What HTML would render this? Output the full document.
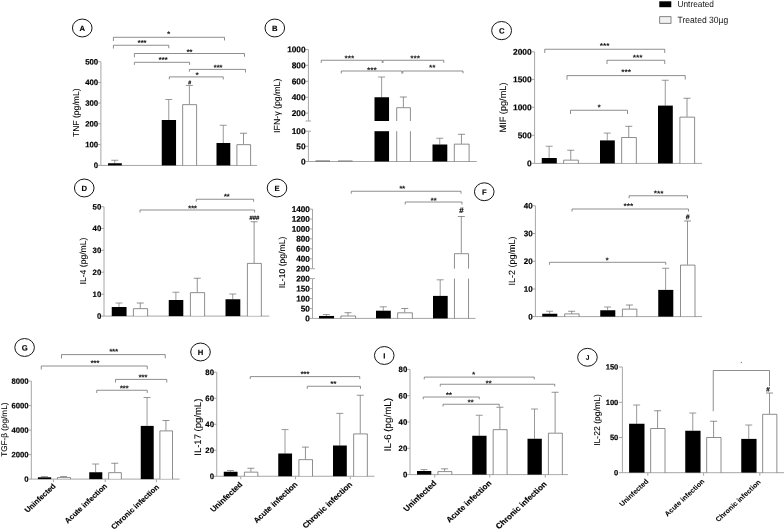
<!DOCTYPE html>
<html lang="en">
<head>
<meta charset="utf-8">
<title>Figure</title>
<style>
html,body{margin:0;padding:0;background:#fff;}
body{width:784px;height:531px;overflow:hidden;}
svg{display:block;font-family:"Liberation Sans",sans-serif;text-rendering:geometricPrecision;}
</style>
</head>
<body>
<svg width="784" height="531" viewBox="0 0 784 531">
<rect x="0" y="0" width="784" height="531" fill="#fff"/>
<rect x="659.3" y="1.3" width="12" height="5.9" fill="#000"/>
<text transform="translate(677.5 7.2) scale(1 1.07)" font-size="8.3" fill="#151515">Untreated</text>
<rect x="659.7" y="16.7" width="11.3" height="6.6" fill="#f2f2f2" stroke="#666" stroke-width="0.8"/>
<text transform="translate(677.5 22.9) scale(1 1.07)" font-size="8.55" fill="#151515">Treated 30µg</text>
<ellipse cx="82.25" cy="28" rx="9.8" ry="8.95" fill="#fff" stroke="#0a0a0a" stroke-width="0.95"/>
<text x="82.35" y="31" font-size="7.7" text-anchor="middle" font-weight="bold" transform="rotate(0.2 82.35 31)" fill="#000" stroke="#000" stroke-width="0.12">A</text>
<line x1="100.9" y1="61.75" x2="100.9" y2="165.4" stroke="#a6a6a6" stroke-width="1"/>
<line x1="98.1" y1="165.4" x2="100.9" y2="165.4" stroke="#a6a6a6" stroke-width="1"/>
<text x="98.2" y="168.13" font-size="7.8" text-anchor="end" font-weight="bold" transform="rotate(0.2 98.2 168.13)" fill="#000" stroke="#000" stroke-width="0.18">0</text>
<line x1="98.1" y1="144.6" x2="100.9" y2="144.6" stroke="#a6a6a6" stroke-width="1"/>
<text x="98.2" y="147.33" font-size="7.8" text-anchor="end" font-weight="bold" transform="rotate(0.2 98.2 147.33)" fill="#000" stroke="#000" stroke-width="0.18">100</text>
<line x1="98.1" y1="123.75" x2="100.9" y2="123.75" stroke="#a6a6a6" stroke-width="1"/>
<text x="98.2" y="126.48" font-size="7.8" text-anchor="end" font-weight="bold" transform="rotate(0.2 98.2 126.48)" fill="#000" stroke="#000" stroke-width="0.18">200</text>
<line x1="98.1" y1="103.1" x2="100.9" y2="103.1" stroke="#a6a6a6" stroke-width="1"/>
<text x="98.2" y="105.83" font-size="7.8" text-anchor="end" font-weight="bold" transform="rotate(0.2 98.2 105.83)" fill="#000" stroke="#000" stroke-width="0.18">300</text>
<line x1="98.1" y1="82.4" x2="100.9" y2="82.4" stroke="#a6a6a6" stroke-width="1"/>
<text x="98.2" y="85.13" font-size="7.8" text-anchor="end" font-weight="bold" transform="rotate(0.2 98.2 85.13)" fill="#000" stroke="#000" stroke-width="0.18">400</text>
<line x1="98.1" y1="61.75" x2="100.9" y2="61.75" stroke="#a6a6a6" stroke-width="1"/>
<text x="98.2" y="64.48" font-size="7.8" text-anchor="end" font-weight="bold" transform="rotate(0.2 98.2 64.48)" fill="#000" stroke="#000" stroke-width="0.18">500</text>
<line x1="100.5" y1="165.45" x2="257" y2="165.45" stroke="#a6a6a6" stroke-width="1"/>
<text x="79" y="112.75" font-size="8.6" text-anchor="middle" transform="rotate(-90 79 112.75)" fill="#000" stroke="#000" stroke-width="0.08">TNF (pg/mL)</text>
<line x1="114.75" y1="160.25" x2="114.75" y2="163.25" stroke="#727272" stroke-width="0.72"/>
<line x1="111.25" y1="160.25" x2="118.25" y2="160.25" stroke="#727272" stroke-width="0.72"/>
<rect x="108" y="163.25" width="13.8" height="2.15" fill="#000"/>
<line x1="168.75" y1="99.5" x2="168.75" y2="120" stroke="#727272" stroke-width="0.72"/>
<line x1="165.25" y1="99.5" x2="172.25" y2="99.5" stroke="#727272" stroke-width="0.72"/>
<rect x="161.75" y="120" width="14.3" height="45.4" fill="#000"/>
<line x1="189.38" y1="85.4" x2="189.38" y2="104.25" stroke="#686868" stroke-width="0.72"/>
<line x1="185.88" y1="85.4" x2="192.88" y2="85.4" stroke="#686868" stroke-width="0.72"/>
<rect x="182.65" y="104.65" width="13.95" height="60.25" fill="#fff"/>
<polyline points="182.65,165.4 182.65,104.65 196.6,104.65 196.6,165.4" fill="none" stroke="#585858" stroke-width="0.68"/>
<line x1="223.25" y1="125.25" x2="223.25" y2="143" stroke="#727272" stroke-width="0.72"/>
<line x1="219.75" y1="125.25" x2="226.75" y2="125.25" stroke="#727272" stroke-width="0.72"/>
<rect x="216.5" y="143" width="13.8" height="22.4" fill="#000"/>
<line x1="243.5" y1="133.25" x2="243.5" y2="144.25" stroke="#686868" stroke-width="0.72"/>
<line x1="240" y1="133.25" x2="247" y2="133.25" stroke="#686868" stroke-width="0.72"/>
<rect x="236.9" y="144.65" width="13.7" height="20.25" fill="#fff"/>
<polyline points="236.9,165.4 236.9,144.65 250.6,144.65 250.6,165.4" fill="none" stroke="#585858" stroke-width="0.68"/>
<polyline points="113.4,41.1 113.4,37.3 224.5,37.3 224.5,40.5" fill="none" stroke="#686868" stroke-width="0.75"/>
<text x="168.47" y="36.95" font-size="8.4" text-anchor="middle" font-weight="bold" transform="rotate(0.2 168.47 36.95)" fill="#1a1a1a" letter-spacing="-0.35">*</text>
<polyline points="113.4,48.6 113.4,45.25 168.75,45.25 168.75,48.2" fill="none" stroke="#686868" stroke-width="0.75"/>
<text x="141.88" y="45.7" font-size="8.4" text-anchor="middle" font-weight="bold" transform="rotate(0.2 141.88 45.7)" fill="#1a1a1a" letter-spacing="-0.35">***</text>
<polyline points="134.4,57.4 134.4,53.5 244.5,53.5 244.5,56.75" fill="none" stroke="#686868" stroke-width="0.75"/>
<text x="189.38" y="54.9" font-size="8.4" text-anchor="middle" font-weight="bold" transform="rotate(0.2 189.38 54.9)" fill="#1a1a1a" letter-spacing="-0.35">**</text>
<polyline points="134.4,64.9 134.4,62.3 189.6,62.3 189.6,64.9" fill="none" stroke="#686868" stroke-width="0.75"/>
<text x="162.97" y="62.8" font-size="8.4" text-anchor="middle" font-weight="bold" transform="rotate(0.2 162.97 62.8)" fill="#1a1a1a" letter-spacing="-0.35">***</text>
<polyline points="189.4,71.75 189.4,69.4 245.5,69.4 245.5,72.5" fill="none" stroke="#686868" stroke-width="0.75"/>
<text x="217.88" y="70.45" font-size="8.4" text-anchor="middle" font-weight="bold" transform="rotate(0.2 217.88 70.45)" fill="#1a1a1a" letter-spacing="-0.35">***</text>
<polyline points="169.3,79.25 169.3,76.9 223.25,76.9 223.25,79.5" fill="none" stroke="#686868" stroke-width="0.75"/>
<text x="197.07" y="77.9" font-size="8.4" text-anchor="middle" font-weight="bold" transform="rotate(0.2 197.07 77.9)" fill="#1a1a1a" letter-spacing="-0.35">*</text>
<text x="189.6" y="84.24" font-size="5.2" text-anchor="middle" font-weight="bold" transform="rotate(0.2 189.6 84.24)" fill="#000" stroke="#000" stroke-width="0.2">#</text>
<ellipse cx="274.8" cy="28" rx="9.8" ry="8.95" fill="#fff" stroke="#0a0a0a" stroke-width="0.95"/>
<text x="274.9" y="31" font-size="7.7" text-anchor="middle" font-weight="bold" transform="rotate(0.2 274.9 31)" fill="#000" stroke="#000" stroke-width="0.12">B</text>
<line x1="308.4" y1="131.2" x2="308.4" y2="161.5" stroke="#a6a6a6" stroke-width="1"/>
<line x1="308.4" y1="49.5" x2="308.4" y2="121" stroke="#a6a6a6" stroke-width="1"/>
<line x1="305.6" y1="161.5" x2="308.4" y2="161.5" stroke="#a6a6a6" stroke-width="1"/>
<text x="305.6" y="164.41" font-size="8.3" text-anchor="end" font-weight="bold" transform="rotate(0.2 305.6 164.41)" fill="#000" stroke="#000" stroke-width="0.18">0</text>
<line x1="305.6" y1="146.35" x2="308.4" y2="146.35" stroke="#a6a6a6" stroke-width="1"/>
<text x="305.6" y="149.25" font-size="8.3" text-anchor="end" font-weight="bold" transform="rotate(0.2 305.6 149.25)" fill="#000" stroke="#000" stroke-width="0.18">50</text>
<line x1="305.6" y1="131.2" x2="308.4" y2="131.2" stroke="#a6a6a6" stroke-width="1"/>
<text x="305.6" y="134.1" font-size="8.3" text-anchor="end" font-weight="bold" transform="rotate(0.2 305.6 134.1)" fill="#000" stroke="#000" stroke-width="0.18">100</text>
<line x1="305.6" y1="121" x2="308.4" y2="121" stroke="#a6a6a6" stroke-width="1"/>
<line x1="305.6" y1="113.1" x2="308.4" y2="113.1" stroke="#a6a6a6" stroke-width="1"/>
<text x="305.6" y="116" font-size="8.3" text-anchor="end" font-weight="bold" transform="rotate(0.2 305.6 116)" fill="#000" stroke="#000" stroke-width="0.18">200</text>
<line x1="305.6" y1="97.25" x2="308.4" y2="97.25" stroke="#a6a6a6" stroke-width="1"/>
<text x="305.6" y="100.16" font-size="8.3" text-anchor="end" font-weight="bold" transform="rotate(0.2 305.6 100.16)" fill="#000" stroke="#000" stroke-width="0.18">400</text>
<line x1="305.6" y1="81.3" x2="308.4" y2="81.3" stroke="#a6a6a6" stroke-width="1"/>
<text x="305.6" y="84.2" font-size="8.3" text-anchor="end" font-weight="bold" transform="rotate(0.2 305.6 84.2)" fill="#000" stroke="#000" stroke-width="0.18">600</text>
<line x1="305.6" y1="65.3" x2="308.4" y2="65.3" stroke="#a6a6a6" stroke-width="1"/>
<text x="305.6" y="68.2" font-size="8.3" text-anchor="end" font-weight="bold" transform="rotate(0.2 305.6 68.2)" fill="#000" stroke="#000" stroke-width="0.18">800</text>
<line x1="305.6" y1="49.5" x2="308.4" y2="49.5" stroke="#a6a6a6" stroke-width="1"/>
<text x="305.6" y="52.41" font-size="8.3" text-anchor="end" font-weight="bold" transform="rotate(0.2 305.6 52.41)" fill="#000" stroke="#000" stroke-width="0.18">1000</text>
<line x1="308.4" y1="121" x2="311" y2="121" stroke="#a6a6a6" stroke-width="1"/>
<line x1="308.4" y1="131.2" x2="311" y2="131.2" stroke="#a6a6a6" stroke-width="1"/>
<line x1="308" y1="161.5" x2="476.8" y2="161.5" stroke="#a6a6a6" stroke-width="1"/>
<text x="280" y="105.8" font-size="8.8" text-anchor="middle" transform="rotate(-90 280 105.8)" fill="#000" stroke="#000" stroke-width="0.08">IFN-γ (pg/mL)</text>
<rect x="315.5" y="160.6" width="14.5" height="0.7" fill="#333"/>
<rect x="338" y="160.6" width="14.5" height="0.7" fill="#555"/>
<line x1="381.62" y1="77" x2="381.62" y2="97.25" stroke="#727272" stroke-width="0.72"/>
<line x1="378.12" y1="77" x2="385.12" y2="77" stroke="#727272" stroke-width="0.72"/>
<rect x="374.5" y="97.25" width="14.55" height="23.75" fill="#000"/>
<rect x="374.5" y="131.2" width="14.55" height="30.3" fill="#000"/>
<line x1="403.38" y1="97" x2="403.38" y2="107.25" stroke="#686868" stroke-width="0.72"/>
<line x1="399.88" y1="97" x2="406.88" y2="97" stroke="#686868" stroke-width="0.72"/>
<polyline points="396.7,121 396.7,107.7 410.4,107.7 410.4,121" fill="none" stroke="#585858" stroke-width="0.68"/>
<polyline points="396.7,131.2 396.7,161.5" fill="none" stroke="#585858" stroke-width="0.68"/>
<polyline points="410.4,131.2 410.4,161.5" fill="none" stroke="#585858" stroke-width="0.68"/>
<line x1="439.75" y1="138.25" x2="439.75" y2="144.5" stroke="#727272" stroke-width="0.72"/>
<line x1="436.25" y1="138.25" x2="443.25" y2="138.25" stroke="#727272" stroke-width="0.72"/>
<rect x="432.5" y="144.5" width="14.8" height="17" fill="#000"/>
<line x1="461.45" y1="134.3" x2="461.45" y2="143.75" stroke="#686868" stroke-width="0.72"/>
<line x1="457.95" y1="134.3" x2="464.95" y2="134.3" stroke="#686868" stroke-width="0.72"/>
<rect x="454.3" y="144.15" width="14.8" height="16.85" fill="#fff"/>
<polyline points="454.3,161.5 454.3,144.15 469.1,144.15 469.1,161.5" fill="none" stroke="#585858" stroke-width="0.68"/>
<polyline points="321.25,62.9 321.25,60.25 382.2,60.25 382.2,62.9" fill="none" stroke="#686868" stroke-width="0.75"/>
<text x="349.45" y="61.2" font-size="8.4" text-anchor="middle" font-weight="bold" transform="rotate(0.2 349.45 61.2)" fill="#1a1a1a" letter-spacing="0">***</text>
<polyline points="383,62.9 383,60.25 443.75,60.25 443.75,62.9" fill="none" stroke="#686868" stroke-width="0.75"/>
<text x="415.2" y="61.2" font-size="8.4" text-anchor="middle" font-weight="bold" transform="rotate(0.2 415.2 61.2)" fill="#1a1a1a" letter-spacing="0">***</text>
<polyline points="341.25,73.5 341.25,71 401.9,71 401.9,73.5" fill="none" stroke="#686868" stroke-width="0.75"/>
<text x="371.95" y="73" font-size="8.4" text-anchor="middle" font-weight="bold" transform="rotate(0.2 371.95 73)" fill="#1a1a1a" letter-spacing="0">***</text>
<polyline points="402.75,73.5 402.75,71 463,71 463,73.3" fill="none" stroke="#686868" stroke-width="0.75"/>
<text x="432.2" y="70.5" font-size="8.4" text-anchor="middle" font-weight="bold" transform="rotate(0.2 432.2 70.5)" fill="#1a1a1a" letter-spacing="0">**</text>
<ellipse cx="501.6" cy="30.6" rx="9.95" ry="9.1" fill="#fff" stroke="#0a0a0a" stroke-width="0.95"/>
<text x="501.7" y="33.6" font-size="7.7" text-anchor="middle" font-weight="bold" transform="rotate(0.2 501.7 33.6)" fill="#000" stroke="#000" stroke-width="0.12">C</text>
<line x1="534.6" y1="51.8" x2="534.6" y2="163.35" stroke="#a6a6a6" stroke-width="1"/>
<line x1="531.8" y1="163.35" x2="534.6" y2="163.35" stroke="#a6a6a6" stroke-width="1"/>
<text x="531.7" y="166.29" font-size="8.4" text-anchor="end" font-weight="bold" transform="rotate(0.2 531.7 166.29)" fill="#000" stroke="#000" stroke-width="0.18">0</text>
<line x1="531.8" y1="135.3" x2="534.6" y2="135.3" stroke="#a6a6a6" stroke-width="1"/>
<text x="531.7" y="138.24" font-size="8.4" text-anchor="end" font-weight="bold" transform="rotate(0.2 531.7 138.24)" fill="#000" stroke="#000" stroke-width="0.18">500</text>
<line x1="531.8" y1="107.3" x2="534.6" y2="107.3" stroke="#a6a6a6" stroke-width="1"/>
<text x="531.7" y="110.24" font-size="8.4" text-anchor="end" font-weight="bold" transform="rotate(0.2 531.7 110.24)" fill="#000" stroke="#000" stroke-width="0.18">1000</text>
<line x1="531.8" y1="79.4" x2="534.6" y2="79.4" stroke="#a6a6a6" stroke-width="1"/>
<text x="531.7" y="82.34" font-size="8.4" text-anchor="end" font-weight="bold" transform="rotate(0.2 531.7 82.34)" fill="#000" stroke="#000" stroke-width="0.18">1500</text>
<line x1="531.8" y1="51.8" x2="534.6" y2="51.8" stroke="#a6a6a6" stroke-width="1"/>
<text x="531.7" y="54.74" font-size="8.4" text-anchor="end" font-weight="bold" transform="rotate(0.2 531.7 54.74)" fill="#000" stroke="#000" stroke-width="0.18">2000</text>
<line x1="534.2" y1="163.4" x2="702" y2="163.4" stroke="#a6a6a6" stroke-width="1"/>
<text x="506.2" y="107.5" font-size="9.2" text-anchor="middle" transform="rotate(-90 506.2 107.5)" fill="#000" stroke="#000" stroke-width="0.08">MIF (pg/mL)</text>
<line x1="549.12" y1="146.25" x2="549.12" y2="158" stroke="#727272" stroke-width="0.72"/>
<line x1="545.62" y1="146.25" x2="552.62" y2="146.25" stroke="#727272" stroke-width="0.72"/>
<rect x="541.75" y="158" width="15.05" height="5.4" fill="#000"/>
<line x1="570.75" y1="150.25" x2="570.75" y2="159.75" stroke="#686868" stroke-width="0.72"/>
<line x1="567.25" y1="150.25" x2="574.25" y2="150.25" stroke="#686868" stroke-width="0.72"/>
<rect x="563.65" y="160.15" width="14.7" height="2.75" fill="#fff"/>
<polyline points="563.65,163.4 563.65,160.15 578.35,160.15 578.35,163.4" fill="none" stroke="#585858" stroke-width="0.68"/>
<line x1="607.25" y1="133.1" x2="607.25" y2="140.4" stroke="#727272" stroke-width="0.72"/>
<line x1="603.75" y1="133.1" x2="610.75" y2="133.1" stroke="#727272" stroke-width="0.72"/>
<rect x="600" y="140.4" width="14.8" height="23" fill="#000"/>
<line x1="628.75" y1="126.3" x2="628.75" y2="137.1" stroke="#686868" stroke-width="0.72"/>
<line x1="625.25" y1="126.3" x2="632.25" y2="126.3" stroke="#686868" stroke-width="0.72"/>
<rect x="621.65" y="137.5" width="14.7" height="25.4" fill="#fff"/>
<polyline points="621.65,163.4 621.65,137.5 636.35,137.5 636.35,163.4" fill="none" stroke="#585858" stroke-width="0.68"/>
<line x1="665.25" y1="80.25" x2="665.25" y2="105.6" stroke="#727272" stroke-width="0.72"/>
<line x1="661.75" y1="80.25" x2="668.75" y2="80.25" stroke="#727272" stroke-width="0.72"/>
<rect x="658" y="105.6" width="14.8" height="57.8" fill="#000"/>
<line x1="687" y1="98.25" x2="687" y2="116.75" stroke="#686868" stroke-width="0.72"/>
<line x1="683.5" y1="98.25" x2="690.5" y2="98.25" stroke="#686868" stroke-width="0.72"/>
<rect x="679.9" y="117.15" width="14.7" height="45.75" fill="#fff"/>
<polyline points="679.9,163.4 679.9,117.15 694.6,117.15 694.6,163.4" fill="none" stroke="#585858" stroke-width="0.68"/>
<polyline points="544.75,53 544.75,49.25 664.75,49.25 664.75,53" fill="none" stroke="#686868" stroke-width="0.75"/>
<text x="604.7" y="48.7" font-size="8.4" text-anchor="middle" font-weight="bold" transform="rotate(0.2 604.7 48.7)" fill="#1a1a1a" letter-spacing="0">***</text>
<polyline points="607,64 607,60.25 664.75,60.25 664.75,64" fill="none" stroke="#686868" stroke-width="0.75"/>
<text x="637.7" y="60.45" font-size="8.4" text-anchor="middle" font-weight="bold" transform="rotate(0.2 637.7 60.45)" fill="#1a1a1a" letter-spacing="0">***</text>
<polyline points="567,79.7 567,75.6 685.25,75.6 685.25,79.5" fill="none" stroke="#686868" stroke-width="0.75"/>
<text x="626.2" y="74.95" font-size="8.4" text-anchor="middle" font-weight="bold" transform="rotate(0.2 626.2 74.95)" fill="#1a1a1a" letter-spacing="0">***</text>
<polyline points="570.5,114 570.5,110.25 627.5,110.25 627.5,114" fill="none" stroke="#686868" stroke-width="0.75"/>
<text x="599.2" y="110.2" font-size="8.4" text-anchor="middle" font-weight="bold" transform="rotate(0.2 599.2 110.2)" fill="#1a1a1a" letter-spacing="0">*</text>
<ellipse cx="84.25" cy="188" rx="9.8" ry="8.95" fill="#fff" stroke="#0a0a0a" stroke-width="0.95"/>
<text x="84.35" y="191" font-size="7.7" text-anchor="middle" font-weight="bold" transform="rotate(0.2 84.35 191)" fill="#000" stroke="#000" stroke-width="0.12">D</text>
<line x1="104" y1="206.75" x2="104" y2="316.1" stroke="#a6a6a6" stroke-width="1"/>
<line x1="101.2" y1="316.1" x2="104" y2="316.1" stroke="#a6a6a6" stroke-width="1"/>
<text x="101.3" y="318.83" font-size="7.8" text-anchor="end" font-weight="bold" transform="rotate(0.2 101.3 318.83)" fill="#000" stroke="#000" stroke-width="0.18">0</text>
<line x1="101.2" y1="294.2" x2="104" y2="294.2" stroke="#a6a6a6" stroke-width="1"/>
<text x="101.3" y="296.93" font-size="7.8" text-anchor="end" font-weight="bold" transform="rotate(0.2 101.3 296.93)" fill="#000" stroke="#000" stroke-width="0.18">10</text>
<line x1="101.2" y1="272.2" x2="104" y2="272.2" stroke="#a6a6a6" stroke-width="1"/>
<text x="101.3" y="274.93" font-size="7.8" text-anchor="end" font-weight="bold" transform="rotate(0.2 101.3 274.93)" fill="#000" stroke="#000" stroke-width="0.18">20</text>
<line x1="101.2" y1="250.3" x2="104" y2="250.3" stroke="#a6a6a6" stroke-width="1"/>
<text x="101.3" y="253.03" font-size="7.8" text-anchor="end" font-weight="bold" transform="rotate(0.2 101.3 253.03)" fill="#000" stroke="#000" stroke-width="0.18">30</text>
<line x1="101.2" y1="228.4" x2="104" y2="228.4" stroke="#a6a6a6" stroke-width="1"/>
<text x="101.3" y="231.13" font-size="7.8" text-anchor="end" font-weight="bold" transform="rotate(0.2 101.3 231.13)" fill="#000" stroke="#000" stroke-width="0.18">40</text>
<line x1="101.2" y1="206.75" x2="104" y2="206.75" stroke="#a6a6a6" stroke-width="1"/>
<text x="101.3" y="209.48" font-size="7.8" text-anchor="end" font-weight="bold" transform="rotate(0.2 101.3 209.48)" fill="#000" stroke="#000" stroke-width="0.18">50</text>
<line x1="103.6" y1="316.1" x2="269.3" y2="316.1" stroke="#a6a6a6" stroke-width="1"/>
<text x="86.3" y="261" font-size="8.6" text-anchor="middle" transform="rotate(-90 86.3 261)" fill="#000" stroke="#000" stroke-width="0.08">IL-4 (pg/mL)</text>
<line x1="119" y1="303" x2="119" y2="307" stroke="#727272" stroke-width="0.72"/>
<line x1="115.5" y1="303" x2="122.5" y2="303" stroke="#727272" stroke-width="0.72"/>
<rect x="111.75" y="307" width="14.8" height="9.1" fill="#000"/>
<line x1="140.25" y1="303" x2="140.25" y2="308.25" stroke="#686868" stroke-width="0.72"/>
<line x1="136.75" y1="303" x2="143.75" y2="303" stroke="#686868" stroke-width="0.72"/>
<rect x="133.4" y="308.65" width="14.2" height="6.95" fill="#fff"/>
<polyline points="133.4,316.1 133.4,308.65 147.6,308.65 147.6,316.1" fill="none" stroke="#585858" stroke-width="0.68"/>
<line x1="175.88" y1="292.25" x2="175.88" y2="300" stroke="#727272" stroke-width="0.72"/>
<line x1="172.38" y1="292.25" x2="179.38" y2="292.25" stroke="#727272" stroke-width="0.72"/>
<rect x="168.75" y="300" width="14.55" height="16.1" fill="#000"/>
<line x1="197.25" y1="278.25" x2="197.25" y2="292.25" stroke="#686868" stroke-width="0.72"/>
<line x1="193.75" y1="278.25" x2="200.75" y2="278.25" stroke="#686868" stroke-width="0.72"/>
<rect x="190.4" y="292.65" width="14.2" height="22.95" fill="#fff"/>
<polyline points="190.4,316.1 190.4,292.65 204.6,292.65 204.6,316.1" fill="none" stroke="#585858" stroke-width="0.68"/>
<line x1="232.75" y1="294" x2="232.75" y2="299.25" stroke="#727272" stroke-width="0.72"/>
<line x1="229.25" y1="294" x2="236.25" y2="294" stroke="#727272" stroke-width="0.72"/>
<rect x="225.5" y="299.25" width="14.8" height="16.85" fill="#000"/>
<line x1="254.12" y1="221.75" x2="254.12" y2="263" stroke="#686868" stroke-width="0.72"/>
<line x1="250.62" y1="221.75" x2="257.62" y2="221.75" stroke="#686868" stroke-width="0.72"/>
<rect x="247.4" y="263.4" width="13.95" height="52.2" fill="#fff"/>
<polyline points="247.4,316.1 247.4,263.4 261.35,263.4 261.35,316.1" fill="none" stroke="#585858" stroke-width="0.68"/>
<polyline points="196.25,201.75 196.25,199.25 253.6,199.25 253.6,201.75" fill="none" stroke="#686868" stroke-width="0.75"/>
<text x="226.62" y="199.45" font-size="8.4" text-anchor="middle" font-weight="bold" transform="rotate(0.2 226.62 199.45)" fill="#1a1a1a" letter-spacing="-0.35">**</text>
<polyline points="140,212.5 140,210 254.6,210 254.6,212.5" fill="none" stroke="#686868" stroke-width="0.75"/>
<text x="192.38" y="211.2" font-size="8.4" text-anchor="middle" font-weight="bold" transform="rotate(0.2 192.38 211.2)" fill="#1a1a1a" letter-spacing="-0.35">***</text>
<text x="254.3" y="219.69" font-size="5.9" text-anchor="middle" font-weight="bold" transform="rotate(0.2 254.3 219.69)" fill="#000" stroke="#000" stroke-width="0.2">###</text>
<ellipse cx="277" cy="188" rx="9.8" ry="8.95" fill="#fff" stroke="#0a0a0a" stroke-width="0.95"/>
<text x="277.1" y="191" font-size="7.7" text-anchor="middle" font-weight="bold" transform="rotate(0.2 277.1 191)" fill="#000" stroke="#000" stroke-width="0.12">E</text>
<line x1="312.5" y1="278.6" x2="312.5" y2="318.4" stroke="#a6a6a6" stroke-width="1"/>
<line x1="312.5" y1="209.1" x2="312.5" y2="268.7" stroke="#a6a6a6" stroke-width="1"/>
<line x1="309.7" y1="318.4" x2="312.5" y2="318.4" stroke="#a6a6a6" stroke-width="1"/>
<text x="309.9" y="321.27" font-size="8.2" text-anchor="end" font-weight="bold" transform="rotate(0.2 309.9 321.27)" fill="#000" stroke="#000" stroke-width="0.18">0</text>
<line x1="309.7" y1="308.6" x2="312.5" y2="308.6" stroke="#a6a6a6" stroke-width="1"/>
<text x="309.9" y="311.47" font-size="8.2" text-anchor="end" font-weight="bold" transform="rotate(0.2 309.9 311.47)" fill="#000" stroke="#000" stroke-width="0.18">50</text>
<line x1="309.7" y1="298.6" x2="312.5" y2="298.6" stroke="#a6a6a6" stroke-width="1"/>
<text x="309.9" y="301.47" font-size="8.2" text-anchor="end" font-weight="bold" transform="rotate(0.2 309.9 301.47)" fill="#000" stroke="#000" stroke-width="0.18">100</text>
<line x1="309.7" y1="288.6" x2="312.5" y2="288.6" stroke="#a6a6a6" stroke-width="1"/>
<text x="309.9" y="291.47" font-size="8.2" text-anchor="end" font-weight="bold" transform="rotate(0.2 309.9 291.47)" fill="#000" stroke="#000" stroke-width="0.18">150</text>
<line x1="309.7" y1="278.6" x2="312.5" y2="278.6" stroke="#a6a6a6" stroke-width="1"/>
<text x="309.9" y="281.47" font-size="8.2" text-anchor="end" font-weight="bold" transform="rotate(0.2 309.9 281.47)" fill="#000" stroke="#000" stroke-width="0.18">200</text>
<line x1="309.7" y1="268.7" x2="312.5" y2="268.7" stroke="#a6a6a6" stroke-width="1"/>
<text x="309.9" y="271.57" font-size="8.2" text-anchor="end" font-weight="bold" transform="rotate(0.2 309.9 271.57)" fill="#000" stroke="#000" stroke-width="0.18">200</text>
<line x1="309.7" y1="258.8" x2="312.5" y2="258.8" stroke="#a6a6a6" stroke-width="1"/>
<text x="309.9" y="261.67" font-size="8.2" text-anchor="end" font-weight="bold" transform="rotate(0.2 309.9 261.67)" fill="#000" stroke="#000" stroke-width="0.18">400</text>
<line x1="309.7" y1="248.8" x2="312.5" y2="248.8" stroke="#a6a6a6" stroke-width="1"/>
<text x="309.9" y="251.67" font-size="8.2" text-anchor="end" font-weight="bold" transform="rotate(0.2 309.9 251.67)" fill="#000" stroke="#000" stroke-width="0.18">600</text>
<line x1="309.7" y1="238.8" x2="312.5" y2="238.8" stroke="#a6a6a6" stroke-width="1"/>
<text x="309.9" y="241.67" font-size="8.2" text-anchor="end" font-weight="bold" transform="rotate(0.2 309.9 241.67)" fill="#000" stroke="#000" stroke-width="0.18">800</text>
<line x1="309.7" y1="228.9" x2="312.5" y2="228.9" stroke="#a6a6a6" stroke-width="1"/>
<text x="309.9" y="231.77" font-size="8.2" text-anchor="end" font-weight="bold" transform="rotate(0.2 309.9 231.77)" fill="#000" stroke="#000" stroke-width="0.18">1000</text>
<line x1="309.7" y1="219" x2="312.5" y2="219" stroke="#a6a6a6" stroke-width="1"/>
<text x="309.9" y="221.87" font-size="8.2" text-anchor="end" font-weight="bold" transform="rotate(0.2 309.9 221.87)" fill="#000" stroke="#000" stroke-width="0.18">1200</text>
<line x1="309.7" y1="209.1" x2="312.5" y2="209.1" stroke="#a6a6a6" stroke-width="1"/>
<text x="309.9" y="211.97" font-size="8.2" text-anchor="end" font-weight="bold" transform="rotate(0.2 309.9 211.97)" fill="#000" stroke="#000" stroke-width="0.18">1400</text>
<line x1="312.5" y1="268.7" x2="314.9" y2="268.7" stroke="#a6a6a6" stroke-width="1"/>
<line x1="312.5" y1="278.6" x2="314.9" y2="278.6" stroke="#a6a6a6" stroke-width="1"/>
<line x1="312.1" y1="318.4" x2="475.5" y2="318.4" stroke="#a6a6a6" stroke-width="1"/>
<text x="284.5" y="262.5" font-size="8.6" text-anchor="middle" transform="rotate(-90 284.5 262.5)" fill="#000" stroke="#000" stroke-width="0.08">IL-10 (pg/mL)</text>
<line x1="326.38" y1="314.5" x2="326.38" y2="315.95" stroke="#727272" stroke-width="0.72"/>
<line x1="322.88" y1="314.5" x2="329.88" y2="314.5" stroke="#727272" stroke-width="0.72"/>
<rect x="319" y="315.95" width="15.05" height="2.45" fill="#000"/>
<line x1="348" y1="312.7" x2="348" y2="315.6" stroke="#686868" stroke-width="0.72"/>
<line x1="344.5" y1="312.7" x2="351.5" y2="312.7" stroke="#686868" stroke-width="0.72"/>
<rect x="340.9" y="316" width="14.7" height="1.9" fill="#fff"/>
<polyline points="340.9,318.4 340.9,316 355.6,316 355.6,318.4" fill="none" stroke="#585858" stroke-width="0.68"/>
<line x1="383.25" y1="306.8" x2="383.25" y2="310.7" stroke="#727272" stroke-width="0.72"/>
<line x1="379.75" y1="306.8" x2="386.75" y2="306.8" stroke="#727272" stroke-width="0.72"/>
<rect x="376" y="310.7" width="14.8" height="7.7" fill="#000"/>
<line x1="404.75" y1="308.5" x2="404.75" y2="312.4" stroke="#686868" stroke-width="0.72"/>
<line x1="401.25" y1="308.5" x2="408.25" y2="308.5" stroke="#686868" stroke-width="0.72"/>
<rect x="397.65" y="312.8" width="14.7" height="5.1" fill="#fff"/>
<polyline points="397.65,318.4 397.65,312.8 412.35,312.8 412.35,318.4" fill="none" stroke="#585858" stroke-width="0.68"/>
<line x1="440.2" y1="279.8" x2="440.2" y2="295.9" stroke="#727272" stroke-width="0.72"/>
<line x1="436.7" y1="279.8" x2="443.7" y2="279.8" stroke="#727272" stroke-width="0.72"/>
<rect x="433" y="295.9" width="14.7" height="22.5" fill="#000"/>
<line x1="461.3" y1="216.5" x2="461.3" y2="253.25" stroke="#686868" stroke-width="0.72"/>
<line x1="457.8" y1="216.5" x2="464.8" y2="216.5" stroke="#686868" stroke-width="0.72"/>
<rect x="454.45" y="253.7" width="14.1" height="15" fill="#fff"/>
<polyline points="454.45,268.7 454.45,253.7 468.55,253.7 468.55,268.7" fill="none" stroke="#585858" stroke-width="0.68"/>
<polyline points="454.45,278.6 454.45,318.4" fill="none" stroke="#585858" stroke-width="0.68"/>
<polyline points="468.55,278.6 468.55,318.4" fill="none" stroke="#585858" stroke-width="0.68"/>
<polyline points="351.25,193.75 351.25,191.25 461,191.25 461,193.75" fill="none" stroke="#686868" stroke-width="0.75"/>
<text x="402.1" y="191.6" font-size="8.4" text-anchor="middle" font-weight="bold" transform="rotate(0.2 402.1 191.6)" fill="#1a1a1a" letter-spacing="-0.3">**</text>
<polyline points="405.2,204.5 405.2,202 462,202 462,204.5" fill="none" stroke="#686868" stroke-width="0.75"/>
<text x="433.45" y="203.45" font-size="8.4" text-anchor="middle" font-weight="bold" transform="rotate(0.2 433.45 203.45)" fill="#1a1a1a" letter-spacing="-0.3">**</text>
<text x="461.5" y="212.96" font-size="7.8" text-anchor="middle" font-weight="bold" transform="rotate(0.2 461.5 212.96)" fill="#000" stroke="#000" stroke-width="0.2">#</text>
<ellipse cx="484.25" cy="191.75" rx="9.8" ry="8.95" fill="#fff" stroke="#0a0a0a" stroke-width="0.95"/>
<text x="484.35" y="194.75" font-size="7.7" text-anchor="middle" font-weight="bold" transform="rotate(0.2 484.35 194.75)" fill="#000" stroke="#000" stroke-width="0.12">F</text>
<line x1="535.4" y1="205.75" x2="535.4" y2="316.6" stroke="#a6a6a6" stroke-width="1"/>
<line x1="532.6" y1="316.6" x2="535.4" y2="316.6" stroke="#a6a6a6" stroke-width="1"/>
<text x="532.7" y="319.4" font-size="8" text-anchor="end" font-weight="bold" transform="rotate(0.2 532.7 319.4)" fill="#000" stroke="#000" stroke-width="0.18">0</text>
<line x1="532.6" y1="289" x2="535.4" y2="289" stroke="#a6a6a6" stroke-width="1"/>
<text x="532.7" y="291.8" font-size="8" text-anchor="end" font-weight="bold" transform="rotate(0.2 532.7 291.8)" fill="#000" stroke="#000" stroke-width="0.18">10</text>
<line x1="532.6" y1="261.25" x2="535.4" y2="261.25" stroke="#a6a6a6" stroke-width="1"/>
<text x="532.7" y="264.05" font-size="8" text-anchor="end" font-weight="bold" transform="rotate(0.2 532.7 264.05)" fill="#000" stroke="#000" stroke-width="0.18">20</text>
<line x1="532.6" y1="233.5" x2="535.4" y2="233.5" stroke="#a6a6a6" stroke-width="1"/>
<text x="532.7" y="236.3" font-size="8" text-anchor="end" font-weight="bold" transform="rotate(0.2 532.7 236.3)" fill="#000" stroke="#000" stroke-width="0.18">30</text>
<line x1="532.6" y1="205.75" x2="535.4" y2="205.75" stroke="#a6a6a6" stroke-width="1"/>
<text x="532.7" y="208.55" font-size="8" text-anchor="end" font-weight="bold" transform="rotate(0.2 532.7 208.55)" fill="#000" stroke="#000" stroke-width="0.18">40</text>
<line x1="535" y1="316.6" x2="702" y2="316.6" stroke="#a6a6a6" stroke-width="1"/>
<text x="515.1" y="260.9" font-size="9" text-anchor="middle" transform="rotate(-90 515.1 260.9)" fill="#000" stroke="#000" stroke-width="0.08">IL-2 (pg/mL)</text>
<line x1="549.62" y1="311.25" x2="549.62" y2="313.75" stroke="#727272" stroke-width="0.72"/>
<line x1="546.12" y1="311.25" x2="553.12" y2="311.25" stroke="#727272" stroke-width="0.72"/>
<rect x="542.25" y="313.75" width="15.05" height="2.85" fill="#000"/>
<line x1="571.62" y1="311.25" x2="571.62" y2="313.5" stroke="#686868" stroke-width="0.72"/>
<line x1="568.12" y1="311.25" x2="575.12" y2="311.25" stroke="#686868" stroke-width="0.72"/>
<rect x="564.65" y="313.9" width="14.45" height="2.2" fill="#fff"/>
<polyline points="564.65,316.6 564.65,313.9 579.1,313.9 579.1,316.6" fill="none" stroke="#585858" stroke-width="0.68"/>
<line x1="607.62" y1="307" x2="607.62" y2="310.25" stroke="#727272" stroke-width="0.72"/>
<line x1="604.12" y1="307" x2="611.12" y2="307" stroke="#727272" stroke-width="0.72"/>
<rect x="600.25" y="310.25" width="15.05" height="6.35" fill="#000"/>
<line x1="629.38" y1="305" x2="629.38" y2="308.75" stroke="#686868" stroke-width="0.72"/>
<line x1="625.88" y1="305" x2="632.88" y2="305" stroke="#686868" stroke-width="0.72"/>
<rect x="622.4" y="309.15" width="14.45" height="6.95" fill="#fff"/>
<polyline points="622.4,316.6 622.4,309.15 636.85,309.15 636.85,316.6" fill="none" stroke="#585858" stroke-width="0.68"/>
<line x1="665.62" y1="268.25" x2="665.62" y2="289.9" stroke="#727272" stroke-width="0.72"/>
<line x1="662.12" y1="268.25" x2="669.12" y2="268.25" stroke="#727272" stroke-width="0.72"/>
<rect x="658.25" y="289.9" width="15.05" height="26.7" fill="#000"/>
<line x1="687.5" y1="221" x2="687.5" y2="264.7" stroke="#686868" stroke-width="0.72"/>
<line x1="684" y1="221" x2="691" y2="221" stroke="#686868" stroke-width="0.72"/>
<rect x="680.5" y="265.1" width="14.5" height="51" fill="#fff"/>
<polyline points="680.5,316.6 680.5,265.1 695,265.1 695,316.6" fill="none" stroke="#585858" stroke-width="0.68"/>
<polyline points="629.1,198.25 629.1,195.75 687.5,195.75 687.5,198.25" fill="none" stroke="#686868" stroke-width="0.75"/>
<text x="658.7" y="196.4" font-size="8.4" text-anchor="middle" font-weight="bold" transform="rotate(0.2 658.7 196.4)" fill="#1a1a1a" letter-spacing="0">***</text>
<polyline points="572,211.5 572,209 688.5,209 688.5,211.5" fill="none" stroke="#686868" stroke-width="0.75"/>
<text x="628.4" y="209.1" font-size="8.4" text-anchor="middle" font-weight="bold" transform="rotate(0.2 628.4 209.1)" fill="#1a1a1a" letter-spacing="0">***</text>
<polyline points="549.4,264.8 549.4,262.3 665.75,262.3 665.75,264.8" fill="none" stroke="#686868" stroke-width="0.75"/>
<text x="607.1" y="263.2" font-size="8.4" text-anchor="middle" font-weight="bold" transform="rotate(0.2 607.1 263.2)" fill="#1a1a1a" letter-spacing="0">*</text>
<text x="687.75" y="219.21" font-size="6.8" text-anchor="middle" font-weight="bold" transform="rotate(0.2 687.75 219.21)" fill="#000" stroke="#000" stroke-width="0.2">#</text>
<ellipse cx="24.6" cy="347.5" rx="9.8" ry="8.95" fill="#fff" stroke="#0a0a0a" stroke-width="0.95"/>
<text x="24.7" y="350.5" font-size="7.7" text-anchor="middle" font-weight="bold" transform="rotate(0.2 24.7 350.5)" fill="#000" stroke="#000" stroke-width="0.12">G</text>
<line x1="31.3" y1="381.1" x2="31.3" y2="479.1" stroke="#a6a6a6" stroke-width="1"/>
<line x1="28.5" y1="479.1" x2="31.3" y2="479.1" stroke="#a6a6a6" stroke-width="1"/>
<text x="28.6" y="481.8" font-size="7.7" text-anchor="end" font-weight="bold" transform="rotate(0.2 28.6 481.8)" fill="#000" stroke="#000" stroke-width="0.18">0</text>
<line x1="28.5" y1="454.6" x2="31.3" y2="454.6" stroke="#a6a6a6" stroke-width="1"/>
<text x="28.6" y="457.3" font-size="7.7" text-anchor="end" font-weight="bold" transform="rotate(0.2 28.6 457.3)" fill="#000" stroke="#000" stroke-width="0.18">2000</text>
<line x1="28.5" y1="430.1" x2="31.3" y2="430.1" stroke="#a6a6a6" stroke-width="1"/>
<text x="28.6" y="432.8" font-size="7.7" text-anchor="end" font-weight="bold" transform="rotate(0.2 28.6 432.8)" fill="#000" stroke="#000" stroke-width="0.18">4000</text>
<line x1="28.5" y1="405.6" x2="31.3" y2="405.6" stroke="#a6a6a6" stroke-width="1"/>
<text x="28.6" y="408.3" font-size="7.7" text-anchor="end" font-weight="bold" transform="rotate(0.2 28.6 408.3)" fill="#000" stroke="#000" stroke-width="0.18">6000</text>
<line x1="28.5" y1="381.1" x2="31.3" y2="381.1" stroke="#a6a6a6" stroke-width="1"/>
<text x="28.6" y="383.8" font-size="7.7" text-anchor="end" font-weight="bold" transform="rotate(0.2 28.6 383.8)" fill="#000" stroke="#000" stroke-width="0.18">8000</text>
<line x1="30.9" y1="479.1" x2="179.5" y2="479.1" stroke="#a6a6a6" stroke-width="1"/>
<line x1="53.4" y1="479.1" x2="53.4" y2="482.1" stroke="#a6a6a6" stroke-width="1"/>
<line x1="105.2" y1="479.1" x2="105.2" y2="482.1" stroke="#a6a6a6" stroke-width="1"/>
<line x1="156.4" y1="479.1" x2="156.4" y2="482.1" stroke="#a6a6a6" stroke-width="1"/>
<text x="7.3" y="429.7" font-size="8.2" text-anchor="middle" transform="rotate(-90 7.3 429.7)" fill="#000" stroke="#000" stroke-width="0.08">TGF-β (pg/mL)</text>
<line x1="44.4" y1="476.6" x2="44.4" y2="477.3" stroke="#727272" stroke-width="0.72"/>
<line x1="40.9" y1="476.6" x2="47.9" y2="476.6" stroke="#727272" stroke-width="0.72"/>
<rect x="37.9" y="477.3" width="13.3" height="1.8" fill="#000"/>
<line x1="63.65" y1="476.6" x2="63.65" y2="477.2" stroke="#686868" stroke-width="0.72"/>
<line x1="60.15" y1="476.6" x2="67.15" y2="476.6" stroke="#686868" stroke-width="0.72"/>
<rect x="57.4" y="477.6" width="13" height="1" fill="#fff"/>
<polyline points="57.4,479.1 57.4,477.6 70.4,477.6 70.4,479.1" fill="none" stroke="#585858" stroke-width="0.68"/>
<line x1="95.62" y1="464" x2="95.62" y2="472.25" stroke="#727272" stroke-width="0.72"/>
<line x1="92.12" y1="464" x2="99.12" y2="464" stroke="#727272" stroke-width="0.72"/>
<rect x="89.25" y="472.25" width="13.05" height="6.85" fill="#000"/>
<line x1="114.75" y1="463.25" x2="114.75" y2="472.25" stroke="#686868" stroke-width="0.72"/>
<line x1="111.25" y1="463.25" x2="118.25" y2="463.25" stroke="#686868" stroke-width="0.72"/>
<rect x="108.65" y="472.65" width="12.7" height="5.95" fill="#fff"/>
<polyline points="108.65,479.1 108.65,472.65 121.35,472.65 121.35,479.1" fill="none" stroke="#585858" stroke-width="0.68"/>
<line x1="147.07" y1="397.5" x2="147.07" y2="425.9" stroke="#727272" stroke-width="0.72"/>
<line x1="143.57" y1="397.5" x2="150.57" y2="397.5" stroke="#727272" stroke-width="0.72"/>
<rect x="140.75" y="425.9" width="12.95" height="53.2" fill="#000"/>
<line x1="165.95" y1="420.5" x2="165.95" y2="430.5" stroke="#686868" stroke-width="0.72"/>
<line x1="162.45" y1="420.5" x2="169.45" y2="420.5" stroke="#686868" stroke-width="0.72"/>
<rect x="159.9" y="430.9" width="12.6" height="47.7" fill="#fff"/>
<polyline points="159.9,479.1 159.9,430.9 172.5,430.9 172.5,479.1" fill="none" stroke="#585858" stroke-width="0.68"/>
<polyline points="61.5,358.5 61.5,354.6 165.25,354.6 165.25,358.3" fill="none" stroke="#686868" stroke-width="0.75"/>
<text x="113.6" y="354.6" font-size="8.4" text-anchor="middle" font-weight="bold" transform="rotate(0.2 113.6 354.6)" fill="#1a1a1a" letter-spacing="-0.3">***</text>
<polyline points="41.25,369.6 41.25,366 147.25,366 147.25,369.3" fill="none" stroke="#686868" stroke-width="0.75"/>
<text x="94.85" y="366.1" font-size="8.4" text-anchor="middle" font-weight="bold" transform="rotate(0.2 94.85 366.1)" fill="#1a1a1a" letter-spacing="-0.3">***</text>
<polyline points="115.5,382.5 115.5,379.4 166.75,379.4 166.75,382.5" fill="none" stroke="#686868" stroke-width="0.75"/>
<text x="142.85" y="380.2" font-size="8.4" text-anchor="middle" font-weight="bold" transform="rotate(0.2 142.85 380.2)" fill="#1a1a1a" letter-spacing="-0.3">***</text>
<polyline points="96.75,393 96.75,390.25 147.25,390.25 147.25,393" fill="none" stroke="#686868" stroke-width="0.75"/>
<text x="124.1" y="391.2" font-size="8.4" text-anchor="middle" font-weight="bold" transform="rotate(0.2 124.1 391.2)" fill="#1a1a1a" letter-spacing="-0.3">***</text>
<text transform="translate(56.2 486.6) scale(1 0.93) rotate(-45)" font-size="7.8" text-anchor="end" font-weight="bold" fill="#000" stroke="#000" stroke-width="0.15">Uninfected</text>
<text transform="translate(107.7 486.6) scale(1 0.93) rotate(-45)" font-size="7.8" text-anchor="end" font-weight="bold" fill="#000" stroke="#000" stroke-width="0.15">Acute infection</text>
<text transform="translate(159.5 487.6) scale(1 0.93) rotate(-45)" font-size="7.8" text-anchor="end" font-weight="bold" fill="#000" stroke="#000" stroke-width="0.15">Chronic infection</text>
<ellipse cx="200.5" cy="352" rx="9.8" ry="8.95" fill="#fff" stroke="#0a0a0a" stroke-width="0.95"/>
<text x="200.6" y="355" font-size="7.7" text-anchor="middle" font-weight="bold" transform="rotate(0.2 200.6 355)" fill="#000" stroke="#000" stroke-width="0.12">H</text>
<line x1="216.75" y1="372.25" x2="216.75" y2="476.25" stroke="#a6a6a6" stroke-width="1"/>
<line x1="213.95" y1="476.25" x2="216.75" y2="476.25" stroke="#a6a6a6" stroke-width="1"/>
<text x="214.05" y="478.98" font-size="7.8" text-anchor="end" font-weight="bold" transform="rotate(0.2 214.05 478.98)" fill="#000" stroke="#000" stroke-width="0.18">0</text>
<line x1="213.95" y1="450.25" x2="216.75" y2="450.25" stroke="#a6a6a6" stroke-width="1"/>
<text x="214.05" y="452.98" font-size="7.8" text-anchor="end" font-weight="bold" transform="rotate(0.2 214.05 452.98)" fill="#000" stroke="#000" stroke-width="0.18">20</text>
<line x1="213.95" y1="424.25" x2="216.75" y2="424.25" stroke="#a6a6a6" stroke-width="1"/>
<text x="214.05" y="426.98" font-size="7.8" text-anchor="end" font-weight="bold" transform="rotate(0.2 214.05 426.98)" fill="#000" stroke="#000" stroke-width="0.18">40</text>
<line x1="213.95" y1="398.25" x2="216.75" y2="398.25" stroke="#a6a6a6" stroke-width="1"/>
<text x="214.05" y="400.98" font-size="7.8" text-anchor="end" font-weight="bold" transform="rotate(0.2 214.05 400.98)" fill="#000" stroke="#000" stroke-width="0.18">60</text>
<line x1="213.95" y1="372.25" x2="216.75" y2="372.25" stroke="#a6a6a6" stroke-width="1"/>
<text x="214.05" y="374.98" font-size="7.8" text-anchor="end" font-weight="bold" transform="rotate(0.2 214.05 374.98)" fill="#000" stroke="#000" stroke-width="0.18">80</text>
<line x1="216.35" y1="476.25" x2="374.5" y2="476.25" stroke="#a6a6a6" stroke-width="1"/>
<line x1="240.75" y1="476.25" x2="240.75" y2="479.25" stroke="#a6a6a6" stroke-width="1"/>
<line x1="295.5" y1="476.25" x2="295.5" y2="479.25" stroke="#a6a6a6" stroke-width="1"/>
<line x1="350.25" y1="476.25" x2="350.25" y2="479.25" stroke="#a6a6a6" stroke-width="1"/>
<text x="201" y="427.2" font-size="9.5" text-anchor="middle" transform="rotate(-90 201 427.2)" fill="#000" stroke="#000" stroke-width="0.08">IL-17 (pg/mL)</text>
<line x1="230.5" y1="470.5" x2="230.5" y2="471.75" stroke="#727272" stroke-width="0.72"/>
<line x1="227" y1="470.5" x2="234" y2="470.5" stroke="#727272" stroke-width="0.72"/>
<rect x="223.75" y="471.75" width="13.8" height="4.5" fill="#000"/>
<line x1="250.88" y1="468.25" x2="250.88" y2="471.75" stroke="#686868" stroke-width="0.72"/>
<line x1="247.38" y1="468.25" x2="254.38" y2="468.25" stroke="#686868" stroke-width="0.72"/>
<rect x="244.4" y="472.15" width="13.45" height="3.6" fill="#fff"/>
<polyline points="244.4,476.25 244.4,472.15 257.85,472.15 257.85,476.25" fill="none" stroke="#585858" stroke-width="0.68"/>
<line x1="285" y1="429.6" x2="285" y2="453.5" stroke="#727272" stroke-width="0.72"/>
<line x1="281.5" y1="429.6" x2="288.5" y2="429.6" stroke="#727272" stroke-width="0.72"/>
<rect x="278.25" y="453.5" width="13.8" height="22.75" fill="#000"/>
<line x1="305.45" y1="447.1" x2="305.45" y2="459.25" stroke="#686868" stroke-width="0.72"/>
<line x1="301.95" y1="447.1" x2="308.95" y2="447.1" stroke="#686868" stroke-width="0.72"/>
<rect x="298.9" y="459.65" width="13.6" height="16.1" fill="#fff"/>
<polyline points="298.9,476.25 298.9,459.65 312.5,459.65 312.5,476.25" fill="none" stroke="#585858" stroke-width="0.68"/>
<line x1="339.75" y1="413.4" x2="339.75" y2="445.5" stroke="#727272" stroke-width="0.72"/>
<line x1="336.25" y1="413.4" x2="343.25" y2="413.4" stroke="#727272" stroke-width="0.72"/>
<rect x="333" y="445.5" width="13.8" height="30.75" fill="#000"/>
<line x1="360.25" y1="395.25" x2="360.25" y2="433.5" stroke="#686868" stroke-width="0.72"/>
<line x1="356.75" y1="395.25" x2="363.75" y2="395.25" stroke="#686868" stroke-width="0.72"/>
<rect x="353.65" y="433.9" width="13.7" height="41.85" fill="#fff"/>
<polyline points="353.65,476.25 353.65,433.9 367.35,433.9 367.35,476.25" fill="none" stroke="#585858" stroke-width="0.68"/>
<polyline points="250.25,379 250.25,376.6 359.75,376.6 359.75,379" fill="none" stroke="#686868" stroke-width="0.75"/>
<text x="304.77" y="376.95" font-size="8.4" text-anchor="middle" font-weight="bold" transform="rotate(0.2 304.77 376.95)" fill="#1a1a1a" letter-spacing="-0.35">***</text>
<polyline points="307.25,388.75 307.25,386.25 360.5,386.25 360.5,388.75" fill="none" stroke="#686868" stroke-width="0.75"/>
<text x="333.27" y="386.7" font-size="8.4" text-anchor="middle" font-weight="bold" transform="rotate(0.2 333.27 386.7)" fill="#1a1a1a" letter-spacing="-0.35">**</text>
<text transform="translate(243 485.1) scale(1 0.93) rotate(-45)" font-size="8.1" text-anchor="end" font-weight="bold" fill="#000" stroke="#000" stroke-width="0.15">Uninfected</text>
<text transform="translate(298 485.1) scale(1 0.93) rotate(-45)" font-size="8.1" text-anchor="end" font-weight="bold" fill="#000" stroke="#000" stroke-width="0.15">Acute infection</text>
<text transform="translate(352.8 485.1) scale(1 0.93) rotate(-45)" font-size="8.1" text-anchor="end" font-weight="bold" fill="#000" stroke="#000" stroke-width="0.15">Chronic infection</text>
<ellipse cx="384.25" cy="355.5" rx="9.8" ry="8.95" fill="#fff" stroke="#0a0a0a" stroke-width="0.95"/>
<text x="384.35" y="358.5" font-size="7.7" text-anchor="middle" font-weight="bold" transform="rotate(0.2 384.35 358.5)" fill="#000" stroke="#000" stroke-width="0.12">I</text>
<line x1="410" y1="369.4" x2="410" y2="474.6" stroke="#a6a6a6" stroke-width="1"/>
<line x1="407.2" y1="474.6" x2="410" y2="474.6" stroke="#a6a6a6" stroke-width="1"/>
<text x="407.3" y="477.33" font-size="7.8" text-anchor="end" font-weight="bold" transform="rotate(0.2 407.3 477.33)" fill="#000" stroke="#000" stroke-width="0.18">0</text>
<line x1="407.2" y1="448.3" x2="410" y2="448.3" stroke="#a6a6a6" stroke-width="1"/>
<text x="407.3" y="451.03" font-size="7.8" text-anchor="end" font-weight="bold" transform="rotate(0.2 407.3 451.03)" fill="#000" stroke="#000" stroke-width="0.18">20</text>
<line x1="407.2" y1="422" x2="410" y2="422" stroke="#a6a6a6" stroke-width="1"/>
<text x="407.3" y="424.73" font-size="7.8" text-anchor="end" font-weight="bold" transform="rotate(0.2 407.3 424.73)" fill="#000" stroke="#000" stroke-width="0.18">40</text>
<line x1="407.2" y1="395.7" x2="410" y2="395.7" stroke="#a6a6a6" stroke-width="1"/>
<text x="407.3" y="398.43" font-size="7.8" text-anchor="end" font-weight="bold" transform="rotate(0.2 407.3 398.43)" fill="#000" stroke="#000" stroke-width="0.18">60</text>
<line x1="407.2" y1="369.4" x2="410" y2="369.4" stroke="#a6a6a6" stroke-width="1"/>
<text x="407.3" y="372.13" font-size="7.8" text-anchor="end" font-weight="bold" transform="rotate(0.2 407.3 372.13)" fill="#000" stroke="#000" stroke-width="0.18">80</text>
<line x1="409.6" y1="474.6" x2="568" y2="474.6" stroke="#a6a6a6" stroke-width="1"/>
<line x1="434.75" y1="474.6" x2="434.75" y2="477.6" stroke="#a6a6a6" stroke-width="1"/>
<line x1="489.75" y1="474.6" x2="489.75" y2="477.6" stroke="#a6a6a6" stroke-width="1"/>
<line x1="545.25" y1="474.6" x2="545.25" y2="477.6" stroke="#a6a6a6" stroke-width="1"/>
<text x="391.1" y="424.6" font-size="9.8" text-anchor="middle" transform="rotate(-90 391.1 424.6)" fill="#000" stroke="#000" stroke-width="0.08">IL-6 (pg/mL)</text>
<line x1="424" y1="469.6" x2="424" y2="471" stroke="#727272" stroke-width="0.72"/>
<line x1="420.5" y1="469.6" x2="427.5" y2="469.6" stroke="#727272" stroke-width="0.72"/>
<rect x="417" y="471" width="14.3" height="3.6" fill="#000"/>
<line x1="444.62" y1="468.8" x2="444.62" y2="471.2" stroke="#686868" stroke-width="0.72"/>
<line x1="441.12" y1="468.8" x2="448.12" y2="468.8" stroke="#686868" stroke-width="0.72"/>
<rect x="437.9" y="471.6" width="13.95" height="2.5" fill="#fff"/>
<polyline points="437.9,474.6 437.9,471.6 451.85,471.6 451.85,474.6" fill="none" stroke="#585858" stroke-width="0.68"/>
<line x1="479.25" y1="415.25" x2="479.25" y2="435.75" stroke="#727272" stroke-width="0.72"/>
<line x1="475.75" y1="415.25" x2="482.75" y2="415.25" stroke="#727272" stroke-width="0.72"/>
<rect x="472.25" y="435.75" width="14.3" height="38.85" fill="#000"/>
<line x1="499.88" y1="407.25" x2="499.88" y2="429.25" stroke="#686868" stroke-width="0.72"/>
<line x1="496.38" y1="407.25" x2="503.38" y2="407.25" stroke="#686868" stroke-width="0.72"/>
<rect x="493.15" y="429.65" width="13.95" height="44.45" fill="#fff"/>
<polyline points="493.15,474.6 493.15,429.65 507.1,429.65 507.1,474.6" fill="none" stroke="#585858" stroke-width="0.68"/>
<line x1="534.5" y1="409" x2="534.5" y2="438.75" stroke="#727272" stroke-width="0.72"/>
<line x1="531" y1="409" x2="538" y2="409" stroke="#727272" stroke-width="0.72"/>
<rect x="527.5" y="438.75" width="14.3" height="35.85" fill="#000"/>
<line x1="555.12" y1="392.25" x2="555.12" y2="432.8" stroke="#686868" stroke-width="0.72"/>
<line x1="551.62" y1="392.25" x2="558.62" y2="392.25" stroke="#686868" stroke-width="0.72"/>
<rect x="548.4" y="433.2" width="13.95" height="40.9" fill="#fff"/>
<polyline points="548.4,474.6 548.4,433.2 562.35,433.2 562.35,474.6" fill="none" stroke="#585858" stroke-width="0.68"/>
<polyline points="424.25,379.4 424.25,377.1 534.25,377.1 534.25,379.4" fill="none" stroke="#686868" stroke-width="0.75"/>
<text x="473.5" y="377.6" font-size="8.4" text-anchor="middle" font-weight="bold" transform="rotate(0.2 473.5 377.6)" fill="#1a1a1a" letter-spacing="-0.2">*</text>
<polyline points="440.25,386.5 440.25,384.25 554.75,384.25 554.75,386.5" fill="none" stroke="#686868" stroke-width="0.75"/>
<text x="488.55" y="386.2" font-size="8.4" text-anchor="middle" font-weight="bold" transform="rotate(0.2 488.55 386.2)" fill="#1a1a1a" letter-spacing="-0.2">**</text>
<polyline points="423.25,399.25 423.25,397 479.25,397 479.25,399.25" fill="none" stroke="#686868" stroke-width="0.75"/>
<text x="448.8" y="397.95" font-size="8.4" text-anchor="middle" font-weight="bold" transform="rotate(0.2 448.8 397.95)" fill="#1a1a1a" letter-spacing="-0.2">**</text>
<polyline points="443,406.5 443,404.25 499.25,404.25 499.25,406.5" fill="none" stroke="#686868" stroke-width="0.75"/>
<text x="470.55" y="405.2" font-size="8.4" text-anchor="middle" font-weight="bold" transform="rotate(0.2 470.55 405.2)" fill="#1a1a1a" letter-spacing="-0.2">**</text>
<text transform="translate(437 483.7) scale(1 0.93) rotate(-45)" font-size="8.3" text-anchor="end" font-weight="bold" fill="#000" stroke="#000" stroke-width="0.15">Uninfected</text>
<text transform="translate(492 483.7) scale(1 0.93) rotate(-45)" font-size="8.3" text-anchor="end" font-weight="bold" fill="#000" stroke="#000" stroke-width="0.15">Acute infection</text>
<text transform="translate(547.3 484.7) scale(1 0.93) rotate(-45)" font-size="8.3" text-anchor="end" font-weight="bold" fill="#000" stroke="#000" stroke-width="0.15">Chronic infection</text>
<ellipse cx="587.45" cy="357.3" rx="9.8" ry="8.95" fill="#fff" stroke="#0a0a0a" stroke-width="0.95"/>
<text x="587.55" y="359.87" font-size="6.6" text-anchor="middle" font-weight="bold" transform="rotate(0.2 587.55 359.87)" fill="#000" stroke="#000" stroke-width="0.12">J</text>
<line x1="622.4" y1="367" x2="622.4" y2="472.7" stroke="#a6a6a6" stroke-width="1"/>
<line x1="618.8" y1="472.7" x2="622.4" y2="472.7" stroke="#a6a6a6" stroke-width="1"/>
<text x="618.3" y="475.34" font-size="7.55" text-anchor="end" font-weight="bold" transform="rotate(0.2 618.3 475.34)" fill="#000" stroke="#000" stroke-width="0.18">0</text>
<line x1="618.8" y1="437.5" x2="622.4" y2="437.5" stroke="#a6a6a6" stroke-width="1"/>
<text x="618.3" y="440.14" font-size="7.55" text-anchor="end" font-weight="bold" transform="rotate(0.2 618.3 440.14)" fill="#000" stroke="#000" stroke-width="0.18">50</text>
<line x1="618.8" y1="402.3" x2="622.4" y2="402.3" stroke="#a6a6a6" stroke-width="1"/>
<text x="618.3" y="404.94" font-size="7.55" text-anchor="end" font-weight="bold" transform="rotate(0.2 618.3 404.94)" fill="#000" stroke="#000" stroke-width="0.18">100</text>
<line x1="618.8" y1="367" x2="622.4" y2="367" stroke="#a6a6a6" stroke-width="1"/>
<text x="618.3" y="369.64" font-size="7.55" text-anchor="end" font-weight="bold" transform="rotate(0.2 618.3 369.64)" fill="#000" stroke="#000" stroke-width="0.18">150</text>
<line x1="622" y1="472.7" x2="784" y2="472.7" stroke="#a6a6a6" stroke-width="1"/>
<line x1="647.8" y1="472.7" x2="647.8" y2="475.7" stroke="#a6a6a6" stroke-width="1"/>
<line x1="703.6" y1="472.7" x2="703.6" y2="475.7" stroke="#a6a6a6" stroke-width="1"/>
<line x1="759.8" y1="472.7" x2="759.8" y2="475.7" stroke="#a6a6a6" stroke-width="1"/>
<text x="600.3" y="420" font-size="8.6" text-anchor="middle" transform="rotate(-90 600.3 420)" fill="#000" stroke="#000" stroke-width="0.08">IL-22 (pg/mL)</text>
<line x1="636.65" y1="405" x2="636.65" y2="423.75" stroke="#727272" stroke-width="0.72"/>
<line x1="633.15" y1="405" x2="640.15" y2="405" stroke="#727272" stroke-width="0.72"/>
<rect x="629.1" y="423.75" width="15.4" height="48.85" fill="#000"/>
<line x1="657.58" y1="410.75" x2="657.58" y2="428.1" stroke="#686868" stroke-width="0.72"/>
<line x1="654.08" y1="410.75" x2="661.08" y2="410.75" stroke="#686868" stroke-width="0.72"/>
<rect x="650.65" y="428.5" width="14.35" height="43.6" fill="#fff"/>
<polyline points="650.65,472.6 650.65,428.5 665,428.5 665,472.6" fill="none" stroke="#585858" stroke-width="0.68"/>
<line x1="692.75" y1="413" x2="692.75" y2="430.75" stroke="#727272" stroke-width="0.72"/>
<line x1="689.25" y1="413" x2="696.25" y2="413" stroke="#727272" stroke-width="0.72"/>
<rect x="685.25" y="430.75" width="15.3" height="41.85" fill="#000"/>
<line x1="713.58" y1="421.25" x2="713.58" y2="437.1" stroke="#686868" stroke-width="0.72"/>
<line x1="710.08" y1="421.25" x2="717.08" y2="421.25" stroke="#686868" stroke-width="0.72"/>
<rect x="706.65" y="437.5" width="14.35" height="34.6" fill="#fff"/>
<polyline points="706.65,472.6 706.65,437.5 721,437.5 721,472.6" fill="none" stroke="#585858" stroke-width="0.68"/>
<line x1="748.75" y1="425" x2="748.75" y2="438.9" stroke="#727272" stroke-width="0.72"/>
<line x1="745.25" y1="425" x2="752.25" y2="425" stroke="#727272" stroke-width="0.72"/>
<rect x="741.25" y="438.9" width="15.3" height="33.7" fill="#000"/>
<line x1="769.5" y1="393" x2="769.5" y2="413.9" stroke="#686868" stroke-width="0.72"/>
<line x1="766" y1="393" x2="773" y2="393" stroke="#686868" stroke-width="0.72"/>
<rect x="762.65" y="414.3" width="14.2" height="57.8" fill="#fff"/>
<polyline points="762.65,472.6 762.65,414.3 776.85,414.3 776.85,472.6" fill="none" stroke="#585858" stroke-width="0.68"/>
<polyline points="713.25,411.25 713.25,370.5 769.5,370.5 769.5,386.25" fill="none" stroke="#686868" stroke-width="0.75"/>
<text x="741.25" y="364.6" font-size="4" text-anchor="middle" transform="rotate(0.2 741.25 364.6)" fill="#333">*</text>
<text x="768" y="391.48" font-size="6.3" text-anchor="middle" font-weight="bold" transform="rotate(0.2 768 391.48)" fill="#000" stroke="#000" stroke-width="0.2">#</text>
<text transform="translate(649 481.9) scale(1 0.93) rotate(-45)" font-size="7.35" text-anchor="end" font-weight="bold" fill="#000" stroke="#000" stroke-width="0.05">Uninfected</text>
<text transform="translate(705 481.9) scale(1 0.93) rotate(-45)" font-size="7.35" text-anchor="end" font-weight="bold" fill="#000" stroke="#000" stroke-width="0.05">Acute infection</text>
<text transform="translate(761.3 482.6) scale(1 0.93) rotate(-45)" font-size="7.35" text-anchor="end" font-weight="bold" fill="#000" stroke="#000" stroke-width="0.05">Chronic infection</text>
</svg>
</body>
</html>
